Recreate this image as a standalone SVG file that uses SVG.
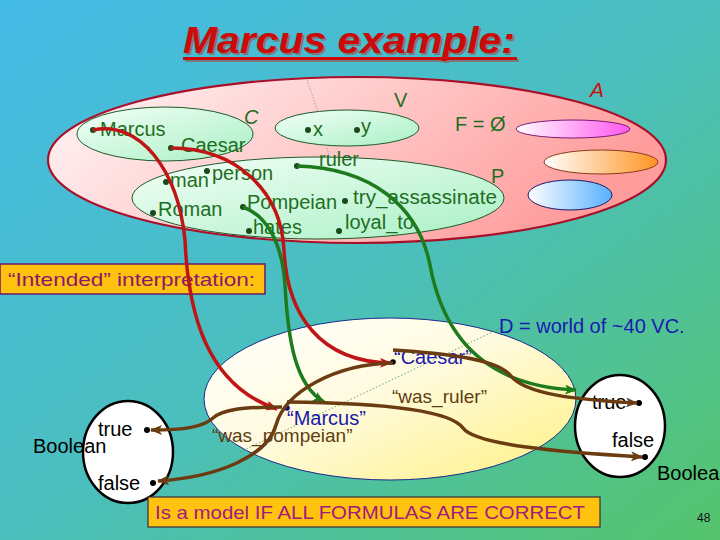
<svg xmlns="http://www.w3.org/2000/svg" width="720" height="540" viewBox="0 0 720 540">
<defs>
  <linearGradient id="bg" x1="0" y1="0" x2="1" y2="1">
    <stop offset="0" stop-color="#44bbe8"/>
    <stop offset="0.5" stop-color="#4bbfbe"/>
    <stop offset="1" stop-color="#55c46c"/>
  </linearGradient>
  <linearGradient id="pink" x1="0" y1="0" x2="1" y2="0.3">
    <stop offset="0" stop-color="#fff6f8"/>
    <stop offset="0.5" stop-color="#ffcccc"/>
    <stop offset="1" stop-color="#ff9c9c"/>
  </linearGradient>
  <linearGradient id="grn" x1="0" y1="0" x2="1" y2="1">
    <stop offset="0" stop-color="#f4fff8"/>
    <stop offset="1" stop-color="#a8f0c4"/>
  </linearGradient>
  <linearGradient id="yel" x1="0" y1="0" x2="1" y2="1">
    <stop offset="0" stop-color="#ffffff"/>
    <stop offset="0.45" stop-color="#fffbe0"/>
    <stop offset="1" stop-color="#fff080"/>
  </linearGradient>
  <linearGradient id="mag" x1="0" y1="0" x2="1" y2="0">
    <stop offset="0" stop-color="#ffffff"/>
    <stop offset="1" stop-color="#ff55ee"/>
  </linearGradient>
  <linearGradient id="org" x1="0" y1="0" x2="1" y2="0">
    <stop offset="0" stop-color="#ffffff"/>
    <stop offset="1" stop-color="#ff9422"/>
  </linearGradient>
  <linearGradient id="blu" x1="0" y1="0" x2="1" y2="0">
    <stop offset="0" stop-color="#ffffff"/>
    <stop offset="1" stop-color="#55b0ff"/>
  </linearGradient>
  <marker id="ar" viewBox="0 0 12 10" refX="11" refY="5" markerWidth="12" markerHeight="10" markerUnits="userSpaceOnUse" orient="auto">
    <path d="M0,0 L12,5 L0,10 L3,5 z" fill="#c01515"/>
  </marker>
  <marker id="ag" viewBox="0 0 12 10" refX="11" refY="5" markerWidth="12" markerHeight="10" markerUnits="userSpaceOnUse" orient="auto">
    <path d="M0,0 L12,5 L0,10 L3,5 z" fill="#1d7a1d"/>
  </marker>
  <marker id="ab" viewBox="0 0 12 10" refX="11" refY="5" markerWidth="12" markerHeight="10" markerUnits="userSpaceOnUse" orient="auto">
    <path d="M0,0 L12,5 L0,10 L3,5 z" fill="#6b3c12"/>
  </marker>
</defs>
<style>
  text { font-family: "Liberation Sans", Arial, sans-serif; }
  .g { fill: #1f6e1f; font-size: 20px; }
  .k { fill: #000; font-size: 20px; }
  .bl { fill: #1a1aa8; font-size: 20px; }
  .br { fill: #5e3e12; font-size: 19px; }
  .dot { fill: #1a4a1a; }
  .kd { fill: #000; }
  .set { stroke: #1f5a2a; stroke-width: 1; fill: url(#grn); }
  .red { fill: none; stroke: #c01515; stroke-width: 3.5; marker-end: url(#ar); }
  .gre { fill: none; stroke: #1d7a1d; stroke-width: 3.5; marker-end: url(#ag); }
  .brn { fill: none; stroke: #6b3c12; stroke-width: 3.5; marker-end: url(#ab); }
  .bool { fill: #fff; stroke: #000; stroke-width: 2.5; }
</style>
<rect x="0" y="0" width="720" height="540" fill="url(#bg)"/>

<g id="title">
  <text x="185" y="55" font-size="36" font-weight="bold" font-style="italic" fill="#7a7a7a" textLength="332" lengthAdjust="spacingAndGlyphs">Marcus example:</text>
  <rect x="185" y="59" width="334" height="3" fill="#7a7a7a"/>
  <text x="183" y="53" font-size="36" font-weight="bold" font-style="italic" fill="#cc0a0a" textLength="332" lengthAdjust="spacingAndGlyphs">Marcus example:</text>
  <rect x="183" y="57" width="334" height="3" fill="#cc0a0a"/>
</g>

<g id="structure-A">
  <ellipse cx="357" cy="160" rx="309" ry="83" fill="url(#pink)" stroke="#a8102a" stroke-width="2.2"/>
  <text x="590" y="97" font-size="21" font-style="italic" fill="#cc1111">A</text>
  <line x1="307" y1="80" x2="318" y2="112" stroke="#8a9aa8" stroke-width="0.8" stroke-dasharray="1.5,1.5"/>
  <line x1="327" y1="148" x2="330" y2="158" stroke="#8a9aa8" stroke-width="0.8" stroke-dasharray="1.5,1.5"/>
</g>

<g id="set-C">
  <ellipse class="set" cx="165" cy="134" rx="88" ry="27"/>
  <text class="g" x="244" y="124" font-style="italic">C</text>
</g>

<g id="set-V">
  <ellipse class="set" cx="347" cy="128" rx="72" ry="18"/>
  <text class="g" x="394" y="107">V</text>
</g>

<g id="set-P">
  <ellipse class="set" cx="318" cy="198" rx="186" ry="41"/>
  <text class="g" x="491" y="183">P</text>
</g>

<g id="F">
  <text class="g" x="455" y="131">F = Ø</text>
</g>

<g id="set-magenta"><ellipse cx="573" cy="129" rx="57" ry="9" fill="url(#mag)" stroke="#7a1a7a" stroke-width="1"/></g>
<g id="set-orange"><ellipse cx="601" cy="162" rx="57" ry="12" fill="url(#org)" stroke="#8a3a1a" stroke-width="1"/></g>
<g id="set-blue"><ellipse cx="570" cy="195" rx="42" ry="15" fill="url(#blu)" stroke="#1a1a6a" stroke-width="1"/></g>

<g id="sym-Marcus"><circle class="dot" cx="93" cy="130" r="3"/><text class="g" x="100" y="136">Marcus</text></g>
<g id="sym-Caesar"><circle class="dot" cx="171" cy="148" r="3"/><text class="g" x="181" y="152">Caesar</text></g>
<g id="sym-x"><circle class="dot" cx="308" cy="130" r="3"/><text class="g" x="313" y="136">x</text></g>
<g id="sym-y"><circle class="dot" cx="357" cy="130" r="3"/><text class="g" x="361" y="133">y</text></g>
<g id="sym-ruler"><circle class="dot" cx="297" cy="166" r="3"/><text class="g" x="319" y="166">ruler</text></g>
<g id="sym-man"><circle class="dot" cx="166" cy="182" r="3"/><text class="g" x="170" y="187" font-size="19">man</text></g>
<g id="sym-person"><circle class="dot" cx="207" cy="171" r="3"/><text class="g" x="212" y="180">person</text></g>
<g id="sym-Roman"><circle class="dot" cx="153" cy="213" r="3"/><text class="g" x="158" y="216" font-size="18.5">Roman</text></g>
<g id="sym-Pompeian"><circle class="dot" cx="243" cy="207" r="3"/><text class="g" x="247" y="209" font-size="19">Pompeian</text></g>
<g id="sym-try_assassinate"><circle class="dot" cx="345" cy="201" r="3"/><text class="g" x="353" y="204" textLength="144" lengthAdjust="spacingAndGlyphs">try_assassinate</text></g>
<g id="sym-hates"><circle class="dot" cx="249" cy="231" r="3"/><text class="g" x="253" y="234">hates</text></g>
<g id="sym-loyal_to"><circle class="dot" cx="339" cy="231" r="3"/><text class="g" x="345" y="229">loyal_to</text></g>

<g id="intended">
  <rect x="0" y="264" width="265" height="30" fill="#ffc20e" stroke="#6a1a6a" stroke-width="1.5"/>
  <text x="8" y="286" font-size="19" fill="#8a1a6a" textLength="247" lengthAdjust="spacingAndGlyphs">“Intended” interpretation:</text>
</g>

<g id="domain-D">
  <ellipse cx="390" cy="399" rx="186" ry="81" fill="url(#yel)" stroke="#1a2a8a" stroke-width="1"/>
  <line x1="240" y1="452" x2="505" y2="326" stroke="#4a8a5a" stroke-width="0.8" stroke-dasharray="1.5,2"/>
  <text x="499" y="333" font-size="20" fill="#1a1ab0">D = world of ~40 VC.</text>
</g>

<g id="obj-Caesar"><circle class="kd" cx="393" cy="362" r="2.8"/><text class="bl" x="394" y="364" font-size="19.5">“Caesar”</text></g>
<g id="obj-Marcus"><circle fill="#10107a" cx="287" cy="408" r="2.8"/><text class="bl" x="287" y="425">“Marcus”</text></g>
<g id="fn-was_ruler"><text class="br" x="392" y="403" font-size="20">“was_ruler”</text></g>
<g id="fn-was_pompeian"><text class="br" x="212" y="442">“was_pompeian”</text></g>

<g id="boolean-left">
  <ellipse class="bool" cx="128" cy="452" rx="45" ry="51"/>
  <text class="k" x="98" y="436">true</text>
  <circle class="kd" cx="147" cy="430" r="3"/>
  <text class="k" x="33" y="453" font-size="19">Boolean</text>
  <text class="k" x="98" y="490">false</text>
  <circle class="kd" cx="153" cy="483" r="3"/>
</g>

<g id="boolean-right">
  <ellipse class="bool" cx="620" cy="426" rx="45" ry="51"/>
  <text class="k" x="592" y="409">true</text>
  <circle class="kd" cx="639" cy="403" r="3"/>
  <text class="k" x="612" y="447">false</text>
  <circle class="kd" cx="645" cy="457" r="3"/>
  <text class="k" x="657" y="480" font-size="19">Boolean</text>
</g>

<g id="model-note">
  <rect x="148" y="497" width="452" height="30" fill="#ffc20e" stroke="#3a2a3a" stroke-width="1.2"/>
  <text x="155" y="519" font-size="19" fill="#a01a80" textLength="430" lengthAdjust="spacingAndGlyphs">Is a model IF ALL FORMULAS ARE CORRECT</text>
</g>

<g id="page-number"><text x="697" y="522" font-size="12" fill="#111">48</text></g>

<g id="connectors">
  <path class="red" d="M93,130 C140,120 178,170 185,240 C188,310 205,385 277,409"/>
  <path class="red" d="M171,148 C235,148 281,190 284,250 C287,315 320,362 391,363"/>
  <path class="gre" d="M243,207 C265,215 282,240 285,285 C288,340 295,385 324,402"/>
  <path class="gre" d="M297,166 C370,168 418,205 430,265 C442,330 480,386 576,390"/>
  <path class="brn" d="M393,350 C440,353 495,358 510,375 C525,395 580,400 637,403"/>
  <path class="brn" d="M287,402 C380,403 450,410 463,428 C475,445 560,452 642,457"/>
  <path class="brn" d="M393,363 C335,364 285,392 276,425 C268,455 220,477 158,481"/>
  <path class="brn" d="M282,407 C240,407 222,410 213,418 C203,427 185,430 151,430"/>
</g>
</svg>
